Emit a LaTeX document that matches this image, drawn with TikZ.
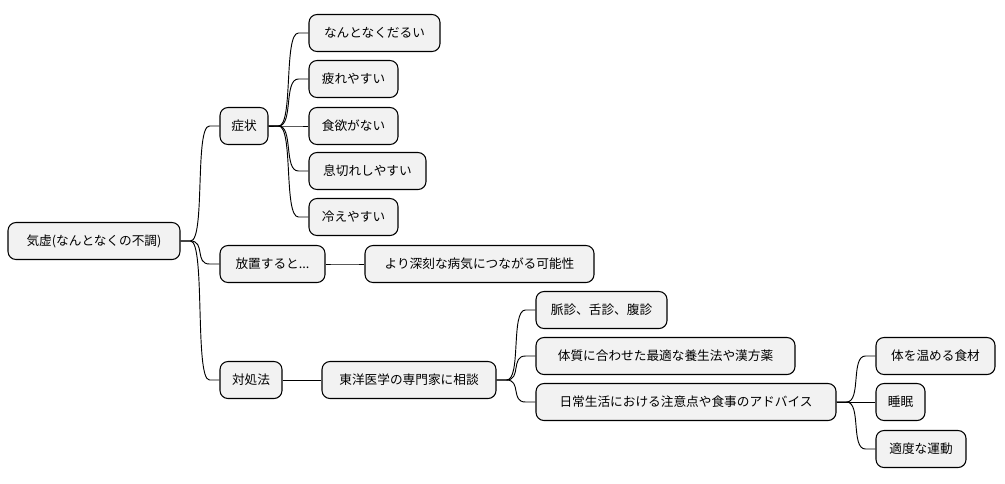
\documentclass[tikz,border=0pt]{standalone}
\usepackage{fontspec}
\setmainfont{Noto Sans CJK JP}
\begin{document}
\begin{tikzpicture}[x=0.75pt,y=-0.75pt,
 n/.style={draw=black,fill=gray!10,rounded corners=6pt,line width=0.8pt,minimum height=27.75pt,inner xsep=0pt,font=\fontsize{9.5pt}{11pt}\selectfont},
 c/.style={line width=0.7pt}]
\useasboundingbox (0,0) rectangle (1005,483);
\newcommand{\nd}[5]{\node[n,minimum width=#4*0.75pt] (#1) at (#2,#3) {#5};}
\nd{r}{94}{241}{172}{気虚(なんとなくの不調)}
\nd{a}{244}{126}{48}{症状}
\nd{a1}{374.5}{33}{131}{なんとなくだるい}
\nd{a2}{353.5}{79}{89}{疲れやすい}
\nd{a3}{353.5}{126}{89}{食欲がない}
\nd{a4}{367.5}{171}{117}{息切れしやすい}
\nd{a5}{353.5}{217}{89}{冷えやすい}
\nd{b}{272.5}{264}{105}{放置すると...}
\nd{b1}{479.5}{264}{229}{より深刻な病気につながる可能性}
\nd{c}{251}{380}{62}{対処法}
\nd{c1}{409}{380}{174}{東洋医学の専門家に相談}
\nd{d1}{601.5}{310}{131}{脈診、舌診、腹診}
\nd{d2}{665.5}{356}{259}{体質に合わせた最適な養生法や漢方薬}
\nd{d3}{686}{402}{300}{日常生活における注意点や食事のアドバイス}
\nd{e1}{935.5}{356}{119}{体を温める食材}
\nd{e2}{900.5}{402}{49}{睡眠}
\nd{e3}{921}{449}{90}{適度な運動}
\foreach \p/\ch in {r/a,r/b,r/c,a/a1,a/a2,a/a3,a/a4,a/a5,b/b1,c/c1,c1/d1,c1/d2,c1/d3,d3/e1,d3/e2,d3/e3}
 \draw[c] (\p.east) -- ++(10,0) .. controls +(15,0) and +(-15,0) .. ([xshift=-10*0.75pt]\ch.west) -- (\ch.west);
\end{tikzpicture}
\end{document}
